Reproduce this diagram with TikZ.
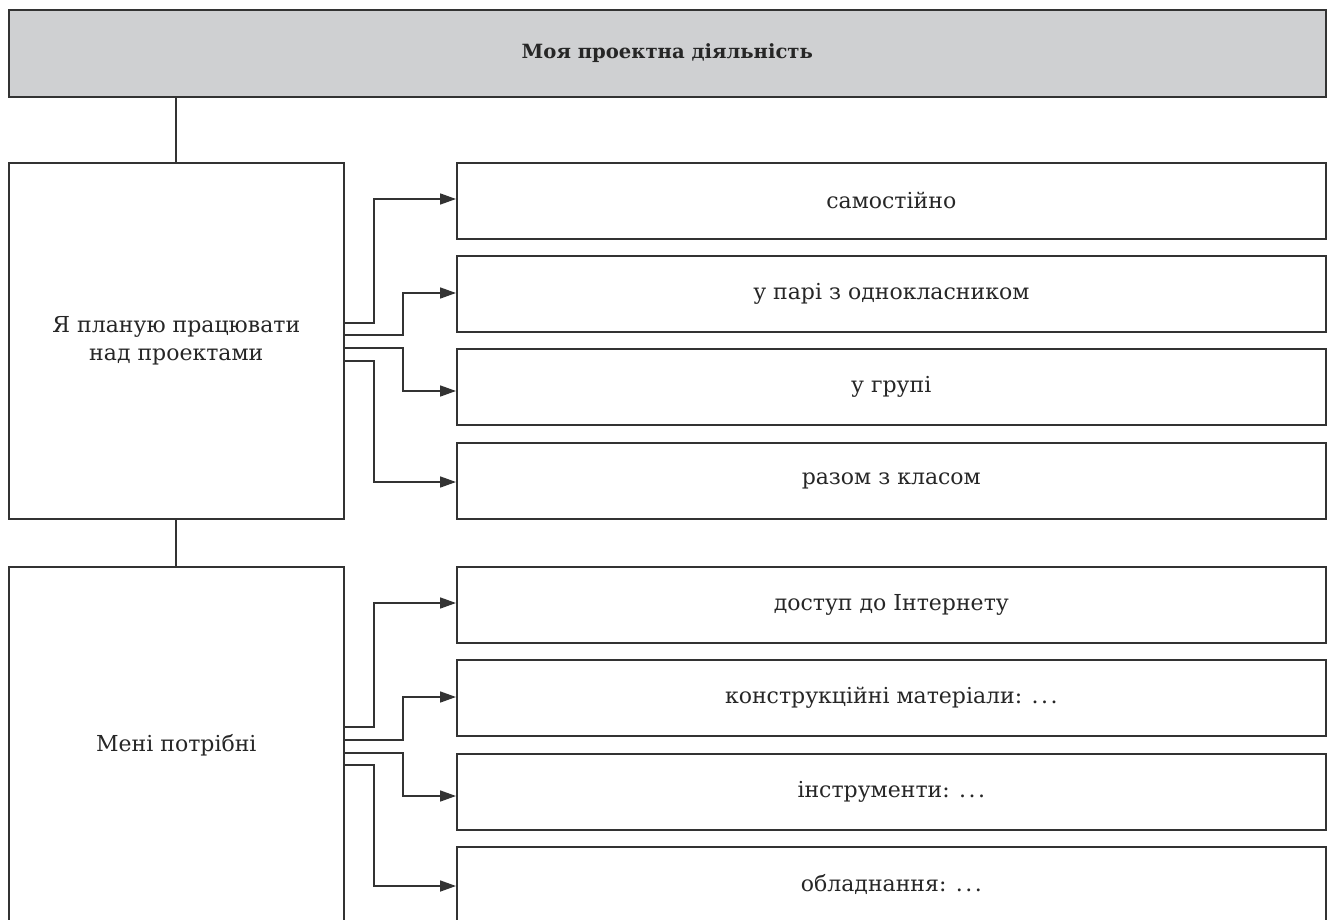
\documentclass[tikz,border=0pt]{standalone}
\usepackage{fontspec}
\setmainfont{DejaVu Serif}
\usetikzlibrary{arrows.meta}
\definecolor{hdrgray}{HTML}{CFD0D2}
\definecolor{linegray}{HTML}{333333}
\newcommand{\dotsx}{.\kern2.5pt.\kern2.5pt.}
\begin{document}
\begin{tikzpicture}[x=1pt,y=-1pt,
  every node/.style={font=\fontsize{22}{28}\selectfont, text=black!85},
  box/.style={draw=linegray, line width=1.6pt, inner sep=0pt, anchor=north west, align=center},
  hdr/.style={box, fill=hdrgray, minimum width=1317, minimum height=87, font=\fontsize{19.6}{26}\selectfont\bfseries},
  leftbox/.style={box, minimum width=335, minimum height=356},
  rightbox/.style={box, minimum width=869, minimum height=76},
  conn/.style={draw=linegray, line width=1.7pt},
  arr/.style={conn, -{Triangle[length=16pt,width=11pt]}}]
\useasboundingbox (0,0) rectangle (1330,920);
\clip (0,0) rectangle (1330,920);
\node[hdr] (T) at (8,9) {Моя проектна діяльність};
\node[leftbox] (L1) at (8,162) {Я планую працювати\\над проектами};
\node[leftbox] (L2) at (8,566) {Мені потрібні};
\node[rightbox] (A1) at (456,162) {самостійно};
\node[rightbox] (A2) at (456,255) {у парі з однокласником};
\node[rightbox] (A3) at (456,348) {у групі};
\node[rightbox] (A4) at (456,442) {разом з класом};
\node[rightbox] (B1) at (456,566) {доступ до Інтернету};
\node[rightbox] (B2) at (456,659) {конструкційні матеріали: \dotsx};
\node[rightbox] (B3) at (456,753) {інструменти: \dotsx};
\node[rightbox] (B4) at (456,846) {обладнання: \dotsx};
\draw[conn] (T.south -| L1.north) -- (L1.north);
\draw[conn] (L1.south) -- (L2.north);
% upper connectors
\draw[arr] (L1.east |- 0,323) -| (374,199) -- (A1.west |- 0,199);
\draw[arr] (L1.east |- 0,335) -| (403,293) -- (A2.west |- 0,293);
\draw[arr] (L1.east |- 0,348) -| (403,391) -- (A3.west |- 0,391);
\draw[arr] (L1.east |- 0,361) -| (374,482) -- (A4.west |- 0,482);
% lower connectors
\draw[arr] (L2.east |- 0,727) -| (374,603) -- (B1.west |- 0,603);
\draw[arr] (L2.east |- 0,740) -| (403,697) -- (B2.west |- 0,697);
\draw[arr] (L2.east |- 0,753) -| (403,796) -- (B3.west |- 0,796);
\draw[arr] (L2.east |- 0,765) -| (374,886) -- (B4.west |- 0,886);
\end{tikzpicture}
\end{document}
